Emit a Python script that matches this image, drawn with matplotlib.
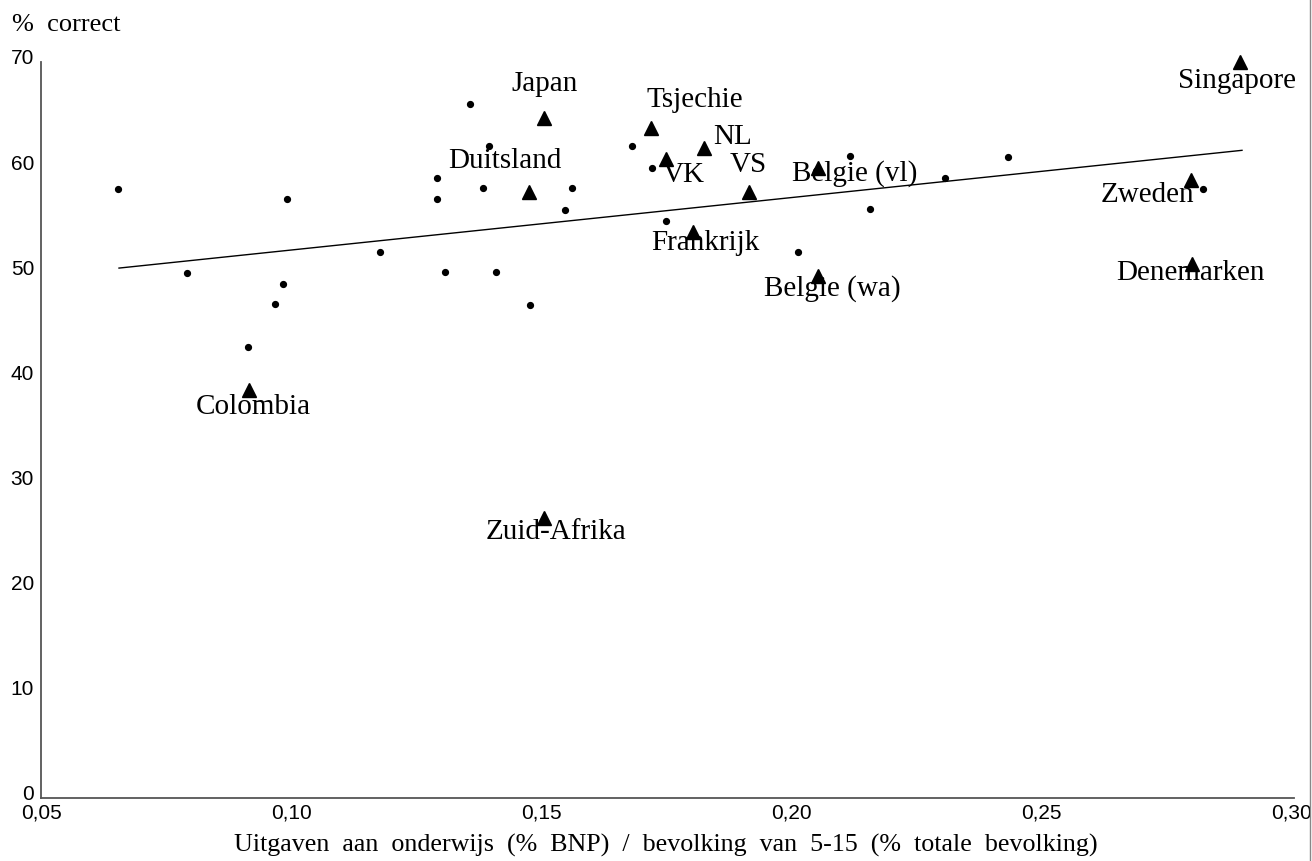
import matplotlib
matplotlib.use("Agg")
import matplotlib.pyplot as plt
from matplotlib.lines import Line2D
from matplotlib.ticker import FixedLocator, FuncFormatter
from matplotlib.transforms import ScaledTranslation

# ---- data ----
countries = ["Singapore", "Zweden", "Denemarken", "Belgie (wa)", "Belgie (vl)", "VS", "NL", "VK",
             "Tsjechie", "Japan", "Duitsland", "Frankrijk", "Colombia", "Zuid-Afrika"]
country_x = [0.2898, 0.2800, 0.2802, 0.2054, 0.2054, 0.1916, 0.1826, 0.1750,
             0.1720, 0.1506, 0.1476, 0.1804, 0.0916, 0.1506]
country_y = [70.0, 58.8, 50.8, 49.6, 59.9, 57.6, 61.8, 60.8,
             63.7, 64.7, 57.6, 53.8, 38.8, 26.6]

other_x = [0.0654, 0.0992, 0.0792, 0.0984, 0.0968, 0.0914, 0.1178, 0.1358, 0.1396,
           0.1292, 0.1292, 0.1384, 0.1562, 0.1548, 0.1308, 0.1410, 0.1478, 0.1682,
           0.1722, 0.1750, 0.2014, 0.2118, 0.2158, 0.2308, 0.2434, 0.2824]
other_y = [57.9, 57.0, 49.9, 48.9, 47.0, 42.9, 51.9, 66.0, 62.0,
           59.0, 57.0, 58.0, 58.0, 55.9, 50.0, 50.0, 46.9, 62.0,
           59.9, 54.9, 51.9, 61.1, 56.0, 59.0, 61.0, 57.9]

fit_x = [0.0656, 0.2902]
fit_y = [50.4, 61.6]

x_ticks = [0.05, 0.10, 0.15, 0.20, 0.25, 0.30]
y_ticks = [0, 10, 20, 30, 40, 50, 60, 70]

# ---- layout (label offsets in pixels: dx right, dy up) ----
label_offsets = {
    "Singapore": (-3, -18), "Zweden": (-44, -14), "Denemarken": (-2, -8),
    "Belgie (wa)": (14, -11), "Belgie (vl)": (37, -4), "VS": (-1, 28),
    "NL": (29, 12), "VK": (18, -15), "Tsjechie": (44, 29), "Japan": (1, 35),
    "Duitsland": (-24, 32), "Frankrijk": (12, -10), "Colombia": (4, -16),
    "Zuid-Afrika": (12, -13),
}

W, H = 1312, 862
fig = plt.figure(figsize=(W / 100, H / 100), dpi=100)
ax = fig.add_axes([41 / W, (H - 799) / H, (1291 - 41) / W, (799 - 63) / H])
ax.set_xlim(0.05, 0.30)
ax.set_ylim(0, 70)

ax.plot(fit_x, fit_y, color="black", lw=1.0, zorder=2)
ax.plot(other_x, other_y, "o", color="black", ms=4.2, zorder=3, clip_on=False)
ax.plot(country_x, country_y, "^", color="black", ms=9.5, zorder=3, clip_on=False)

serif = ["Liberation Serif", "DejaVu Serif"]
sans = ["Liberation Sans", "DejaVu Sans"]
for name, x, y in zip(countries, country_x, country_y):
    dx, dy = label_offsets[name]
    ax.annotate(name, (x, y), xytext=(dx * 0.72, dy * 0.72), textcoords="offset points",
                ha="center", va="center", fontsize=21, family=serif, zorder=4)

for s in ["top", "right"]:
    ax.spines[s].set_visible(False)
for s in ["left", "bottom"]:
    ax.spines[s].set_color("#555555")
    ax.spines[s].set_linewidth(1.3)
ax.spines["bottom"].set_bounds(0.05, 0.3006)

ax.xaxis.set_major_locator(FixedLocator(x_ticks))
ax.yaxis.set_major_locator(FixedLocator(y_ticks))
ax.xaxis.set_major_formatter(FuncFormatter(lambda v, p: f"{v:.2f}".replace(".", ",")))
ax.yaxis.set_major_formatter(FuncFormatter(lambda v, p: f"{int(round(v))}"))
ax.tick_params(axis="both", length=0, labelsize=15)
ax.tick_params(axis="x", pad=3)
ax.tick_params(axis="y", pad=5)
for lab in ax.get_xticklabels() + ax.get_yticklabels():
    lab.set_family(sans)
up = ScaledTranslation(0, 4 / 100, fig.dpi_scale_trans)
for lab in ax.get_yticklabels():
    lab.set_verticalalignment("center")
    lab.set_transform(lab.get_transform() + up)

fig.text(12 / W, 1 - 25 / H, "%  correct", ha="left", va="center", fontsize=19, family=serif)
fig.text(666 / W, 1 - 845 / H,
         "Uitgaven  aan  onderwijs  (%  BNP)  /  bevolking  van  5-15  (%  totale  bevolking)",
         ha="center", va="center", fontsize=18.7, family=serif)

fig.add_artist(Line2D([1310 / W, 1310 / W], [0, 1], transform=fig.transFigure,
                      color="#888888", lw=1.0))

fig.savefig("out.png", dpi=100, facecolor="white")
